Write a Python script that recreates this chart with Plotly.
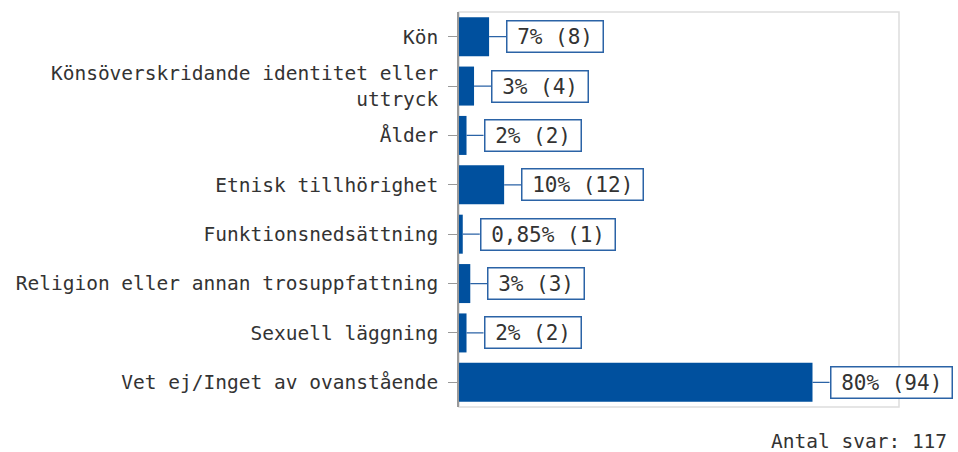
import plotly.graph_objects as go

categories = [
    "Kön",
    "Könsöverskridande identitet eller<br>uttryck",
    "Ålder",
    "Etnisk tillhörighet",
    "Funktionsnedsättning",
    "Religion eller annan trosuppfattning",
    "Sexuell läggning",
    "Vet ej/Inget av ovanstående",
]
counts = [8, 4, 2, 12, 1, 3, 2, 94]
total_answers = 117
percent_labels = ["7%", "3%", "2%", "10%", "0,85%", "3%", "2%", "80%"]

percents = [c / total_answers * 100 for c in counts]

BAR = "#00509e"
BOX = "#2b63a6"
TEXT = "#333333"
FONT = "DejaVu Sans Mono, monospace"
FSIZE = 19.5

# a narrow blank on each side gives the value boxes some inner room
PAD = '<span style="font-size:11px">&nbsp;</span>'
label_texts = [f"{PAD}{p} ({c}){PAD}" for p, c in zip(percent_labels, counts)]

fig = go.Figure(
    go.Bar(
        x=percents,
        y=categories,
        orientation="h",
        marker=dict(color=BAR, line=dict(width=0)),
        width=0.79,
        hoverinfo="skip",
    )
)

for cat, pct, txt in zip(categories, percents, label_texts):
    fig.add_annotation(
        x=pct, y=cat, xref="x", yref="y",
        text=txt,
        showarrow=True, arrowhead=0, arrowwidth=1.3, arrowcolor=BOX,
        ax=17, ay=0, xanchor="left",
        bgcolor="white", bordercolor=BOX, borderwidth=1.5, borderpad=3,
        font=dict(family=FONT, size=21, color=TEXT),
    )

fig.add_annotation(
    x=1.0, y=0, xref="paper", yref="paper", yshift=-34, xshift=50,
    text="Antal svar: 117", showarrow=False, xanchor="right", yanchor="middle",
    font=dict(family=FONT, size=FSIZE, color=TEXT),
)

# light frame around the plotting area
fig.add_shape(
    type="rect", xref="paper", yref="paper", x0=0, y0=0, x1=1, y1=1,
    line=dict(color="#dddddd", width=1.5), layer="below",
)

fig.update_layout(
    width=958, height=452,
    margin=dict(l=459, r=59, t=12, b=45, autoexpand=False),
    plot_bgcolor="white", paper_bgcolor="white",
    showlegend=False,
    bargap=0.21,
    xaxis=dict(range=[0, 100], showgrid=False, zeroline=False,
               showticklabels=False, ticks="", showline=False, fixedrange=True),
    yaxis=dict(autorange="reversed", showgrid=False, zeroline=False,
               showline=True, linecolor="#999999", linewidth=1.5,
               ticks="outside", ticklen=9, tickcolor="#999999", tickwidth=1,
               tickfont=dict(family=FONT, size=FSIZE, color=TEXT),
               ticklabelstandoff=6, automargin=False, fixedrange=True),
)

fig.write_html("out.html")
